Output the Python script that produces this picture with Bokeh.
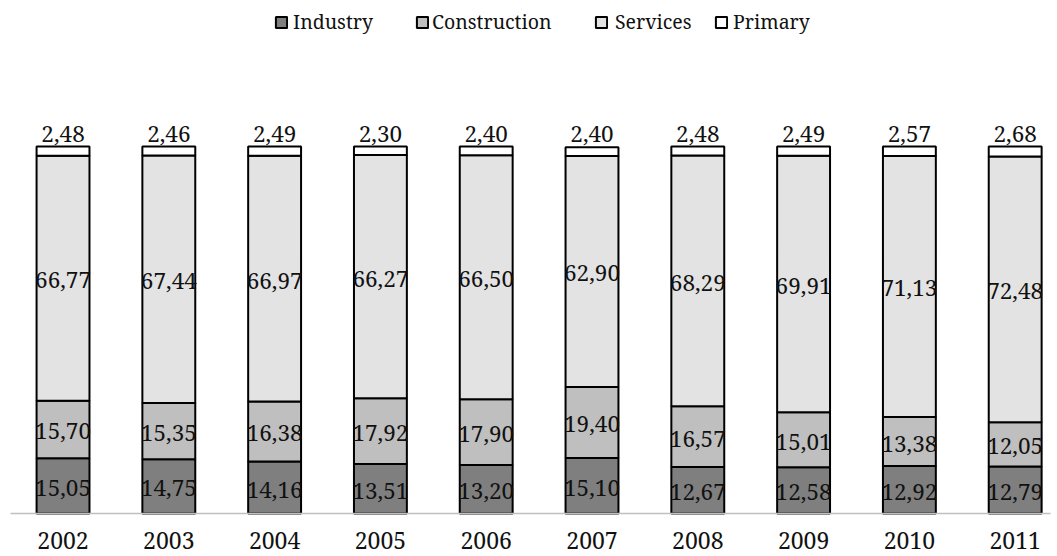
from bokeh.plotting import figure
from bokeh.models import ColumnDataSource, Range1d, FixedTicker, Legend, LegendItem
from bokeh.core.properties import value
from bokeh.embed import file_html
from bokeh.resources import INLINE

years = ["2002", "2003", "2004", "2005", "2006", "2007", "2008", "2009", "2010", "2011"]
industry = [15.05, 14.75, 14.16, 13.51, 13.20, 15.10, 12.67, 12.58, 12.92, 12.79]
construction = [15.70, 15.35, 16.38, 17.92, 17.90, 19.40, 16.57, 15.01, 13.38, 12.05]
services = [66.77, 67.44, 66.97, 66.27, 66.50, 62.90, 68.29, 69.91, 71.13, 72.48]
primary = [2.48, 2.46, 2.49, 2.30, 2.40, 2.40, 2.48, 2.49, 2.57, 2.68]

series_names = ["Industry", "Construction", "Services", "Primary"]
fill_colors = ["#7f7f7f", "#bfbfbf", "#e3e3e3", "#ffffff"]

FONT = "Noto Serif"


def fmt(v):
    return f"{v:.2f}".replace(".", ",")


x = list(range(len(years)))
src = ColumnDataSource(dict(x=x, Industry=industry, Construction=construction,
                            Services=services, Primary=primary))

p = figure(width=1057, height=556, min_border=0,
           x_range=Range1d(-0.591, 9.40), y_range=Range1d(-11.72, 139.8),
           output_backend="svg", toolbar_location=None, y_axis_location=None,
           outline_line_color=None, background_fill_color="white",
           border_fill_color="white")

renderers = p.vbar_stack(series_names, x="x", width=0.5, fill_color=fill_colors,
                         line_color="black", line_width=2, source=src)

ind_mid = [a / 2 for a in industry]
con_mid = [a + b / 2 for a, b in zip(industry, construction)]
srv_mid = [a + b + c / 2 for a, b, c in zip(industry, construction, services)]
totals = [a + b + c + d for a, b, c, d in zip(industry, construction, services, primary)]

lab = ColumnDataSource(dict(
    x=x * 3,
    y=ind_mid + con_mid + srv_mid,
    t=[fmt(v) for v in industry + construction + services],
))
p.text(x="x", y="y", text="t", source=lab, text_font=value(FONT),
       text_font_size="22.5px", text_align="center", text_baseline="middle",
       text_color="#111111", y_offset=2)

top = ColumnDataSource(dict(x=x, y=totals, t=[fmt(v) for v in primary]))
p.text(x="x", y="y", text="t", source=top, text_font=value(FONT),
       text_font_size="22.5px", text_align="center", text_baseline="bottom",
       text_color="#111111", y_offset=-5)

ax = p.xaxis[0]
ax.fixed_location = 0
ax.ticker = FixedTicker(ticks=x)
ax.major_label_overrides = {i: yr for i, yr in zip(x, years)}
ax.major_label_text_font = FONT
ax.major_label_text_font_size = "23px"
ax.major_label_text_color = "#111111"
ax.major_label_standoff = 19
ax.major_tick_in = 0
ax.major_tick_out = 0
ax.minor_tick_in = 0
ax.minor_tick_out = 0
ax.axis_line_color = "#c0c0c0"
ax.axis_line_width = 1.5
ax.bounds = (-0.5, 9.33)

p.xgrid.visible = False
p.ygrid.visible = False

legend_x = [274, 415, 594, 714]
standoffs = [5, 3, 7, 5]
for name, r, lx, so in zip(series_names, renderers, legend_x, standoffs):
    leg = Legend(items=[LegendItem(label=name, renderers=[r])],
                 location=(lx, 521), orientation="horizontal",
                 padding=0, margin=0, border_line_color=None,
                 background_fill_alpha=0, glyph_width=14, glyph_height=14,
                 label_standoff=so, label_text_font=FONT,
                 label_text_font_size="19.5px", label_text_color="#111111")
    p.add_layout(leg, "center")

open("out.html", "w").write(file_html(p, INLINE))
